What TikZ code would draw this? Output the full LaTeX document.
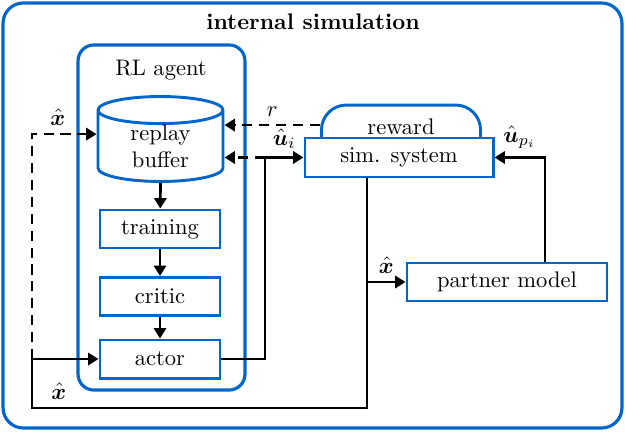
\documentclass[tikz,border=0pt]{standalone}
\usepackage{amsmath}
\usepackage{bm}
\usetikzlibrary{
    arrows.meta,
    calc,
    shapes.geometric,
}
\definecolor{tuBlue}{RGB}{0,102,204}

\begin{document}
\begin{tikzpicture}[x=0.444pt, y=-0.444pt,
        >={Triangle[length=4.6pt,width=5.4pt]},
        block/.style={rectangle, draw=tuBlue, line width=1.3pt, fill=white, inner sep=0pt, minimum width=53.3pt, minimum height=16.9pt},
        frame/.style={rectangle, draw=tuBlue, line width=1.4pt},
        sig/.style={line width=1.2pt},
        fbsig/.style={sig, dash pattern=on 4.5pt off 3pt},
        ]
        \useasboundingbox (0,0) rectangle (625,432);
        \node[frame, rounded corners=9pt, minimum width=274.8pt, minimum height=188.7pt] (intsim) at (312.5,215.5) {};
        \node[font=\bfseries] (intsimlbl) at (313,22) {internal simulation};
        \node[frame, rounded corners=7pt, minimum width=74.1pt, minimum height=153.2pt] (agent) at (161.5,217.5) {};
        \node (agentlbl) at (161,70) {RL agent};
        \node[cylinder, shape border rotate=90, draw=tuBlue, line width=1.3pt, aspect=0.45, minimum width=55.5pt, align=center, inner sep=0pt] (buffer) at (160.5,146.5) {replay\\buffer};
        \node[block] (training) at (160,229) {training};
        \node[block] (critic)   at (160,296.5) {critic};
        \node[block] (actor)    at (160,359) {actor};
        \node[rectangle, draw=tuBlue, line width=1.3pt, rounded corners=11pt, minimum width=70.6pt, minimum height=26.6pt] (reward) at (401,135) {};
        \node (rewardlbl) at (401,127) {reward};
        \node[block, minimum width=83.5pt, minimum height=17.3pt] (sim) at (399,157.5) {sim. system};
        \node[block, minimum width=88.8pt] (partner) at (507,282) {partner model};
        \coordinate (xjoin) at (32,359);
        \coordinate (ujoin) at (265,157.5);
        \coordinate (xbot)  at (367,408);
        \coordinate (upart) at (545,0);
        \draw[sig,->] (buffer.south) -- (training);
        \draw[sig,->] (training) -- (critic);
        \draw[sig,->] (critic) -- (actor);
        \draw[fbsig,->] (xjoin) |- ([yshift=5.5pt]buffer.west) node[pos=0.7, above] {$\hat{\bm{x}}$};
        \draw[fbsig,->] ([yshift=4.4pt]reward.west) -- ([yshift=4.4pt]reward.west -| buffer.east) node[midway, above] {$r$};
        \draw[sig,->] (actor.east) -| (ujoin) -- (sim.west) node[midway, above] {$\hat{\bm{u}}_i$};
        \draw[fbsig,->] (ujoin) -- (ujoin -| buffer.east);
        \draw[sig,->] (sim.south -| xbot) -- (xbot) -| (xjoin) node[pos=0.46, above] {$\hat{\bm{x}}$} -- (actor.west);
        \draw[sig,->] (partner.west -| xbot) -- (partner.west) node[midway, above] {$\hat{\bm{x}}$};
        \draw[sig,->] (partner.north -| upart) |- (sim.east) node[pos=0.75, above] {$\hat{\bm{u}}_{p_i}$};
\end{tikzpicture}
\end{document}
